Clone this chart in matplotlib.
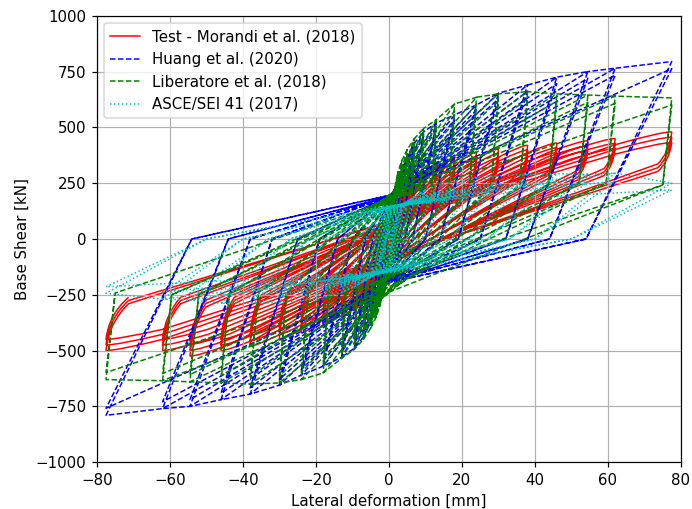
import matplotlib.pyplot as plt
from matplotlib.path import Path
from matplotlib.patches import PathPatch
from matplotlib.lines import Line2D

# loading protocol, peak lateral deformation of each amplitude [mm]
amp = [1.5, 2.5, 3.5, 5, 7, 9.5, 13, 18, 24, 30, 38, 46, 54.5, 62, 77.5]

# Test - Morandi et al. (2018): peak base shear per amplitude [kN]
test_pos = [110, 160, 200, 240, 280, 310, 340, 365, 390, 405, 420, 430, 440, 450, 480]
test_neg = [-110, -160, -200, -245, -285, -320, -355, -390, -420, -450, -480, -500, -525, -500, -500]
test_repeat = [1.0, 0.95, 0.9]
# loop corners as fractions of the peak (disp, force)
test_approach = [0.80, 0.88]
test_knee_pos = [0.95, 0.70]
test_knee_neg = [0.92, 0.58]

# Huang et al. (2020)
huang_pos = [150, 230, 300, 370, 430, 480, 520, 556, 601, 653, 690, 725, 750, 765, 795]
huang_neg = [-150, -230, -300, -370, -440, -490, -530, -570, -610, -655, -695, -720, -750, -760, -790]
huang_zero = [0.5, 1.0, 1.5, 2.2, 3.2, 4.5, 6.5, 10, 14, 19, 25, 32, 38, 44, 54]
huang_pinch = [60, 90, 120, 150, 165, 175, 180, 185, 190, 190, 190, 190, 190, 190, 195]
huang_repeat = [1.0, 0.96]

# Liberatore et al. (2018)
lib_pos = [220, 300, 350, 400, 450, 495, 535, 605, 635, 650, 660, 650, 645, 640, 632]
lib_neg = [-220, -300, -350, -400, -450, -495, -535, -600, -630, -645, -650, -645, -640, -635, -630]
lib_drop = [0.3, 0.4, 0.5, 0.6, 0.8, 1.0, 1.3, 1.6, 2.0, 2.0, 2.2, 2.3, 2.4, 2.5, 2.5]
lib_res = [80, 110, 130, 150, 170, 190, 200, 215, 225, 235, 240, 245, 250, 250, 242]
lib_repeat = [1.0, 0.95]

# ASCE/SEI 41 (2017)
asce_pos = [60, 100, 130, 160, 190, 215, 240, 260, 275, 283, 290, 292, 290, 295, 250]
asce_neg = [-60, -100, -130, -160, -190, -215, -240, -262, -278, -285, -288, -288, -274, -270, -243]
asce_zero = [0.6, 1.0, 1.5, 2.2, 3.2, 4.5, 6.5, 9, 13, 17, 22, 27, 33, 40, 50]
asce_pinch = [30, 50, 70, 90, 105, 115, 125, 130, 135, 140, 140, 145, 145, 145, 150]
asce_repeat = [1.0, 0.88]


def pinched_path(amp, pos, neg, zero, pinch, repeat):
    xs, ys = [0.0], [0.0]
    for i, d in enumerate(amp):
        for k, r in enumerate(repeat):
            if k == 0 and i > 0:
                xs.append(amp[i - 1]); ys.append(pos[i - 1])
            xs += [d, zero[i], 0]
            ys += [pos[i] * r, 0, -pinch[i]]
            if k == 0 and i > 0:
                xs.append(-amp[i - 1]); ys.append(neg[i - 1])
            xs += [-d, -zero[i], 0]
            ys += [neg[i] * r, 0, pinch[i]]
    return xs, ys


def drop_path(amp, pos, neg, drop, res, repeat):
    xs, ys = [0.0], [0.0]
    for i, d in enumerate(amp):
        for k, r in enumerate(repeat):
            if k == 0 and i > 0:
                xs.append(amp[i - 1]); ys.append(pos[i - 1])
            xs += [d, d - drop[i]]
            ys += [pos[i] * r, res[i]]
            if k == 0 and i > 0:
                xs.append(-amp[i - 1]); ys.append(neg[i - 1])
            xs += [-d, -d + drop[i]]
            ys += [neg[i] * r, -res[i]]
    return xs, ys


def test_path():
    verts, codes = [(0, 0)], [Path.MOVETO]
    for i, d in enumerate(amp):
        for r in test_repeat:
            fp, fn = test_pos[i] * r, test_neg[i] * r
            verts += [(test_approach[0] * d, test_approach[1] * fp),
                      (0.96 * d, fp), (d, fp),
                      (0.99 * d, 0.80 * fp), (test_knee_pos[0] * d, test_knee_pos[1] * fp),
                      (-test_approach[0] * d, 0.90 * fn),
                      (-0.96 * d, fn), (-d, fn),
                      (-0.99 * d, 0.75 * fn), (-test_knee_neg[0] * d, test_knee_neg[1] * fn)]
            codes += [Path.LINETO, Path.CURVE3, Path.CURVE3, Path.CURVE3, Path.CURVE3,
                      Path.LINETO, Path.CURVE3, Path.CURVE3, Path.CURVE3, Path.CURVE3]
    return Path(verts, codes)


fig, ax = plt.subplots(figsize=(692 / 108, 509 / 108), dpi=108)
fig.subplots_adjust(left=0.140, right=0.984, top=0.969, bottom=0.092)

lw = 1.0
ax.add_patch(PathPatch(test_path(), facecolor='none', edgecolor='r', lw=lw))
hx, hy = pinched_path(amp, huang_pos, huang_neg, huang_zero, huang_pinch, huang_repeat)
ax.plot(hx, hy, 'b--', lw=lw)
gx, gy = drop_path(amp, lib_pos, lib_neg, lib_drop, lib_res, lib_repeat)
ax.plot(gx, gy, 'g--', lw=lw)
cx, cy = pinched_path(amp, asce_pos, asce_neg, asce_zero, asce_pinch, asce_repeat)
ax.plot(cx, cy, 'c:', lw=lw)

handles = [Line2D([], [], color='r', ls='-', lw=lw),
           Line2D([], [], color='b', ls='--', lw=lw),
           Line2D([], [], color='g', ls='--', lw=lw),
           Line2D([], [], color='c', ls=':', lw=lw)]
labels = ['Test - Morandi et al. (2018)', 'Huang et al. (2020)',
          'Liberatore et al. (2018)', 'ASCE/SEI 41 (2017)']
ax.legend(handles, labels, loc='upper left')

ax.set_xlim(-80, 80)
ax.set_ylim(-1000, 1000)
ax.set_xticks(range(-80, 81, 20))
ax.set_yticks(range(-1000, 1001, 250))
ax.grid(True)
ax.set_xlabel('Lateral deformation [mm]')
ax.set_ylabel('Base Shear [kN]')

fig.savefig('out.png', dpi=108)
